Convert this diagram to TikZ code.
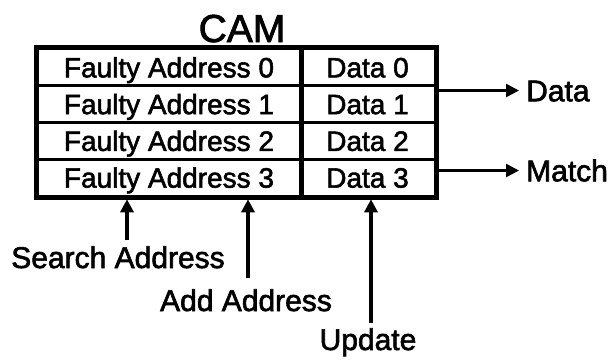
\documentclass[tikz,border=0pt]{standalone}
\usepackage{fontspec}
\setmainfont{Liberation Sans}
% regular metrics, slightly heavier strokes
\newfontfamily\camfont{Liberation Sans}[FakeBold=2]
\usetikzlibrary{arrows.meta}

\begin{document}
\begin{tikzpicture}[x=1pt,y=-1pt,
  cell/.style={draw, line width=2.6pt, inner sep=0pt, minimum height=36.75pt,
    text height=20pt, text depth=0pt, font=\camfont\fontsize{28}{30}\selectfont},
  addrcell/.style={cell, minimum width=262pt},
  datacell/.style={cell, minimum width=135pt},
  frame/.style={line width=4.5pt},
  lbl/.style={inner sep=0pt, text height=21.5pt, text depth=0pt,
    font=\camfont\fontsize{30}{32}\selectfont},
  sig/.style={-{Triangle[length=13pt,width=13pt]}, line width=2.6pt},
  bus/.style={sig, line width=3.6pt, shorten >=2pt}]

\useasboundingbox (0,0) rectangle (613,360);

% title
\node[font=\camfont\fontsize{39}{40}\selectfont, anchor=base, inner sep=0pt] (cam) at (242,42) {CAM};

% address column
\node[addrcell] (fa0) at (169,67.375)  {Faulty Address 0};
\node[addrcell] (fa1) at (169,104.125) {Faulty Address 1};
\node[addrcell] (fa2) at (169,140.875) {Faulty Address 2};
\node[addrcell] (fa3) at (169,177.625) {Faulty Address 3};

% data column
\node[datacell] (fd0) at (367.5,67.375)  {Data 0};
\node[datacell] (fd1) at (367.5,104.125) {Data 1};
\node[datacell] (fd2) at (367.5,140.875) {Data 2};
\node[datacell] (fd3) at (367.5,177.625) {Data 3};

% heavy outer frame and column divider
\draw[frame] (fa0.north west) rectangle (fd3.south east);
\draw[frame] (fa0.north east) -- (fa3.south east);

% outputs
\node[lbl, anchor=west, inner xsep=7pt] (dataout)  at (519,90.5)  {Data};
\node[lbl, anchor=west, inner xsep=7pt] (matchout) at (519,170.5) {Match};
\draw[sig] (dataout.west -| fd1.east) -- (dataout.west);
\draw[sig] (matchout.west -| fd3.east) -- (matchout.west);

% inputs
\node[lbl, anchor=base] (search)  at (118,268) {Search Address};
\node[lbl, anchor=base] (addaddr) at (246,311) {Add Address};
\node[lbl, anchor=base] (update)  at (368,350) {Update};

\coordinate (searchtail) at (127,240);
\coordinate (addtail)    at (248,278);
\coordinate (updatetail) at (371,323);
\draw[bus] (searchtail) -- (searchtail |- fa3.south);
\draw[bus] (addtail)    -- (addtail |- fa3.south);
\draw[bus] (updatetail) -- (updatetail |- fd3.south);
\end{tikzpicture}
\end{document}
